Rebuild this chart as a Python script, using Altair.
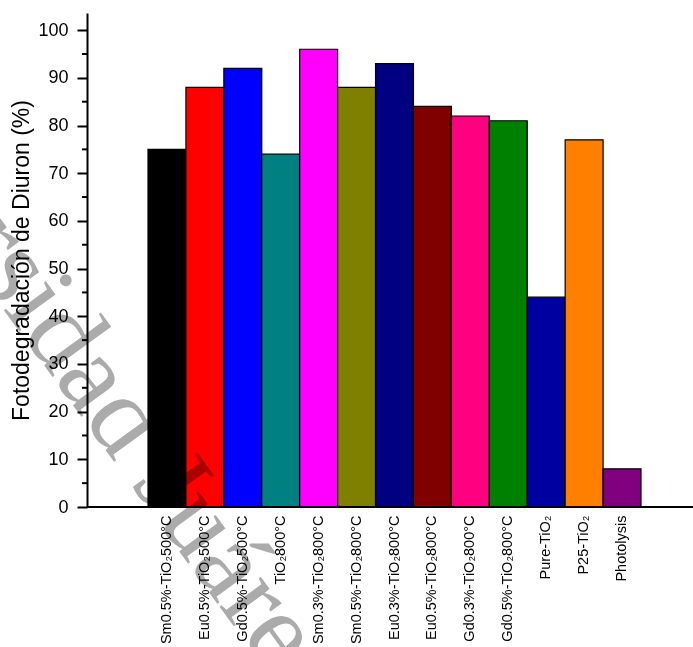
import altair as alt
import pandas as pd

# Catalyst samples and their photodegradation of Diuron (%)
samples = [
    "Sm0.5%-TiO₂500°C",
    "Eu0.5%-TiO₂500°C",
    "Gd0.5%-TiO₂500°C",
    "TiO₂800°C",
    "Sm0.3%-TiO₂800°C",
    "Sm0.5%-TiO₂800°C",
    "Eu0.3%-TiO₂800°C",
    "Eu0.5%-TiO₂800°C",
    "Gd0.3%-TiO₂800°C",
    "Gd0.5%-TiO₂800°C",
    "Pure-TiO₂",
    "P25-TiO₂",
    "Photolysis",
]
degradation = [75, 88, 92, 74, 96, 88, 93, 84, 82, 81, 44, 77, 8]
bar_colors = [
    "#000000", "#FF0000", "#0000FF", "#008080", "#FF00FF", "#808000",
    "#000080", "#800000", "#FF0080", "#008000", "#0000A0", "#FF8000", "#800080",
]
major_ticks = list(range(0, 101, 10))
minor_ticks = list(range(5, 100, 10))
watermark = "Universidad Juárez Autónoma de Tabasco"

bars_df = pd.DataFrame({"sample": samples, "value": degradation, "color": bar_colors})
minor_df = pd.DataFrame({"value": minor_ticks})
base_df = pd.DataFrame({"value": [0]})
mark_df = pd.DataFrame({"t": [watermark]})

# bars sit edge to edge, starting some way right of the y axis
x_scale = alt.Scale(domain=samples, paddingInner=0, paddingOuter=0, range=[61, 554])
y_scale = alt.Scale(domain=[0, 103.6], nice=False, zero=True)

y_axis = alt.Axis(
    values=major_ticks, title="Fotodegradación de Diuron (%)",
    titleFont="Liberation Sans", titleFontSize=23, titleFontWeight="normal",
    titleColor="black", titlePadding=4,
    labelFont="Liberation Sans", labelFontSize=18, labelColor="black",
    labelPadding=9, tickSize=10, tickWidth=2, tickColor="black",
    domainColor="black", domainWidth=2, grid=False,
)

bars = alt.Chart(bars_df).mark_bar(stroke="black", strokeWidth=1.2).encode(
    x=alt.X(
        "sample:N",
        scale=x_scale,
        sort=samples,
        axis=alt.Axis(
            title=None, labelAngle=-90, labelFontSize=14.5, labelFont="Liberation Sans",
            labelColor="black", ticks=False, domain=False,
            labelPadding=8, labelLimit=300,
        ),
    ),
    y=alt.Y("value:Q", scale=y_scale, axis=y_axis),
    color=alt.Color("color:N", scale=None),
)

# minor ticks on the y axis at the odd multiples of 5
minor = alt.Chart(minor_df).mark_rule(color="black", strokeWidth=2).encode(
    y=alt.Y("value:Q", scale=y_scale, axis=y_axis),
    x=alt.value(-5),
    x2=alt.value(0),
)

# x axis baseline across the full plot width
baseline = alt.Chart(base_df).mark_rule(color="black", strokeWidth=2).encode(
    y=alt.Y("value:Q", scale=y_scale, axis=y_axis),
    x=alt.value(0),
    x2=alt.value(606),
)

stamp = alt.Chart(mark_df).mark_text(
    font="Liberation Serif", fontSize=111, angle=54, align="left",
    baseline="alphabetic", color="#ABABAB", blend="multiply",
).encode(text="t:N", x=alt.value(-291), y=alt.value(11))

chart = (
    alt.layer(bars, minor, baseline, stamp)
    .properties(
        width=606,
        height=494,
        autosize=alt.AutoSizeParams(type="none"),
        padding={"left": 87, "top": 13, "right": 0, "bottom": 140},
        background="white",
    )
    .configure_view(stroke=None)
)

chart.save("out.html", embed_options={"renderer": "svg", "actions": False})
